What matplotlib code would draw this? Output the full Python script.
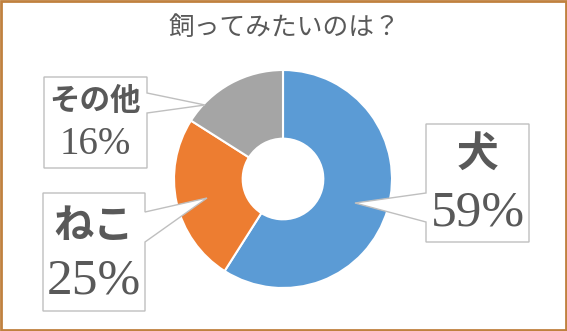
import matplotlib.pyplot as plt
from matplotlib.patches import Polygon, Rectangle

plt.rcParams['font.family'] = ['Noto Sans CJK JP', 'DejaVu Sans']

title = '飼ってみたいのは？'
labels = ['犬', 'ねこ', 'その他']
values = [59, 25, 16]
colors = ['#5B9BD5', '#ED7D31', '#A5A5A5']

W, H = 567, 331
TEXT = '#595959'


def fy(y):
    # pixel row (top-down) -> data y (bottom-up)
    return H - y


fig = plt.figure(figsize=(W / 100, H / 100), dpi=100)
ax = fig.add_axes([0, 0, 1, 1])
ax.set_xlim(0, W)
ax.set_ylim(0, H)
ax.set_aspect('equal')
ax.axis('off')

# donut
radius = 109
ax.pie(values, colors=colors, startangle=90, counterclock=False,
       center=(283, fy(179)), radius=radius,
       wedgeprops=dict(width=radius * 0.63, edgecolor='white', linewidth=1.5))
ax.set_xlim(0, W)
ax.set_ylim(0, H)

ax.text(284, fy(28), title, ha='center', va='center', fontsize=18.5, color=TEXT)

# callout boxes: (left, top, right, bottom), pointer side, pointer base y0/y1, tip
callouts = [
    dict(box=(426, 124, 529, 242), side='left', base=(193, 222), tip=(355, 203),
         name_y=155, pct_y=213, name_fs=30, pct_fs=37),
    dict(box=(43, 193, 145, 311), side='right', base=(212, 242), tip=(207, 198),
         name_y=226, pct_y=281, name_fs=29, pct_fs=37),
    dict(box=(44, 77, 147, 168), side='right', base=(93, 113), tip=(205, 105),
         name_y=101, pct_y=144, name_fs=22, pct_fs=28),
]

for lab, val, c in zip(labels, values, callouts):
    x0, y0, x1, y1 = c['box']
    b0, b1 = c['base']
    tx, ty = c['tip']
    if c['side'] == 'right':
        pts = [(x0, y0), (x1, y0), (x1, b0), (tx, ty), (x1, b1), (x1, y1), (x0, y1)]
    else:
        pts = [(x0, y0), (x1, y0), (x1, y1), (x0, y1), (x0, b1), (tx, ty), (x0, b0)]
    pts = [(px, fy(py)) for px, py in pts]
    ax.add_patch(Polygon(pts, closed=True, facecolor='white', edgecolor='#BFBFBF',
                         linewidth=1, zorder=5))
    cx = (x0 + x1) / 2
    ax.text(cx, fy(c['name_y']), lab, ha='center', va='center',
            fontsize=c['name_fs'], fontweight='bold', color=TEXT, zorder=6)
    ax.text(cx, fy(c['pct_y']), f'{val}%', ha='center', va='center',
            fontsize=c['pct_fs'], family='Liberation Serif', color=TEXT, zorder=6)

# outer frame
fig.add_artist(Rectangle((0.002, 0.003), 0.996, 0.994, transform=fig.transFigure,
                         fill=False, edgecolor='#C0813F', linewidth=2))

fig.savefig('out.png', dpi=100)
